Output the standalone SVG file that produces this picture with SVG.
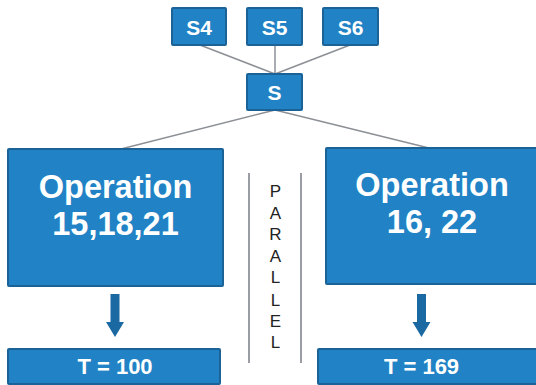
<svg xmlns="http://www.w3.org/2000/svg" width="536" height="385" viewBox="0 0 536 385">
<style>
.box{fill:#2183c5;stroke:#1b6296;stroke-width:2}
.lbl{font-family:"Liberation Sans",Arial,sans-serif;font-weight:bold;fill:#fff;text-anchor:middle}
.con{stroke:#8c9096;stroke-width:1.5;fill:none}
.sep{stroke:#9a9ea4;stroke-width:2}
.par{font-family:"Liberation Sans",Arial,sans-serif;font-size:17px;fill:#222;text-anchor:middle}
.arr{fill:#1b69a3}
</style>
<rect width="536" height="385" fill="#fff"/>
<g id="connectors">
<line class="con" x1="200" y1="45" x2="275" y2="74"/>
<line class="con" x1="275" y1="45" x2="275" y2="74"/>
<line class="con" x1="350" y1="45" x2="275" y2="74"/>
<line class="con" x1="275" y1="110" x2="117" y2="150"/>
<line class="con" x1="275" y1="110" x2="433" y2="149"/>
<path class="arr" d="M110.5 294 H119.5 V322 H124 L115 337 L106 322 H110.5 Z"/>
<path class="arr" d="M417 294 H426 V322 H430.5 L421.5 337 L412.5 322 H417 Z"/>
</g>
<g id="S4"><rect class="box" x="172" y="8" width="54" height="37" rx="1"/><text class="lbl" x="199" y="34.5" font-size="21">S4</text></g>
<g id="S5"><rect class="box" x="247" y="8" width="55" height="37" rx="1"/><text class="lbl" x="274.5" y="34.5" font-size="21">S5</text></g>
<g id="S6"><rect class="box" x="323" y="8" width="55" height="37" rx="1"/><text class="lbl" x="350.5" y="34.5" font-size="21">S6</text></g>
<g id="S"><rect class="box" x="247" y="74" width="55" height="36" rx="1"/><text class="lbl" x="274.5" y="100" font-size="21">S</text></g>
<g id="op1"><rect class="box" x="8" y="149" width="215" height="137" rx="1"/>
<text class="lbl" x="115.5" y="198" font-size="32.5">Operation</text>
<text class="lbl" x="115.5" y="235" font-size="32.5">15,18,21</text></g>
<g id="op2"><rect class="box" x="326" y="148" width="214" height="136" rx="1"/>
<text class="lbl" x="432" y="196" font-size="32.5">Operation</text>
<text class="lbl" x="432" y="233" font-size="32.5">16, 22</text></g>
<g id="parallel">
<line class="sep" x1="249" y1="173" x2="249" y2="363"/>
<line class="sep" x1="301" y1="173" x2="301" y2="363"/>
<text class="par" x="275.5" y="197">P</text>
<text class="par" x="275.5" y="219">A</text>
<text class="par" x="275.5" y="240">R</text>
<text class="par" x="275.5" y="262">A</text>
<text class="par" x="275.5" y="283">L</text>
<text class="par" x="275.5" y="306">L</text>
<text class="par" x="275.5" y="327">E</text>
<text class="par" x="275.5" y="348">L</text>
</g>
<g id="t1"><rect class="box" x="8" y="349" width="212" height="35" rx="1"/><text class="lbl" x="115" y="374" font-size="22">T = 100</text></g>
<g id="t2"><rect class="box" x="318" y="349" width="222" height="35" rx="1"/><text class="lbl" x="421.5" y="374" font-size="22">T = 169</text></g>
</svg>
